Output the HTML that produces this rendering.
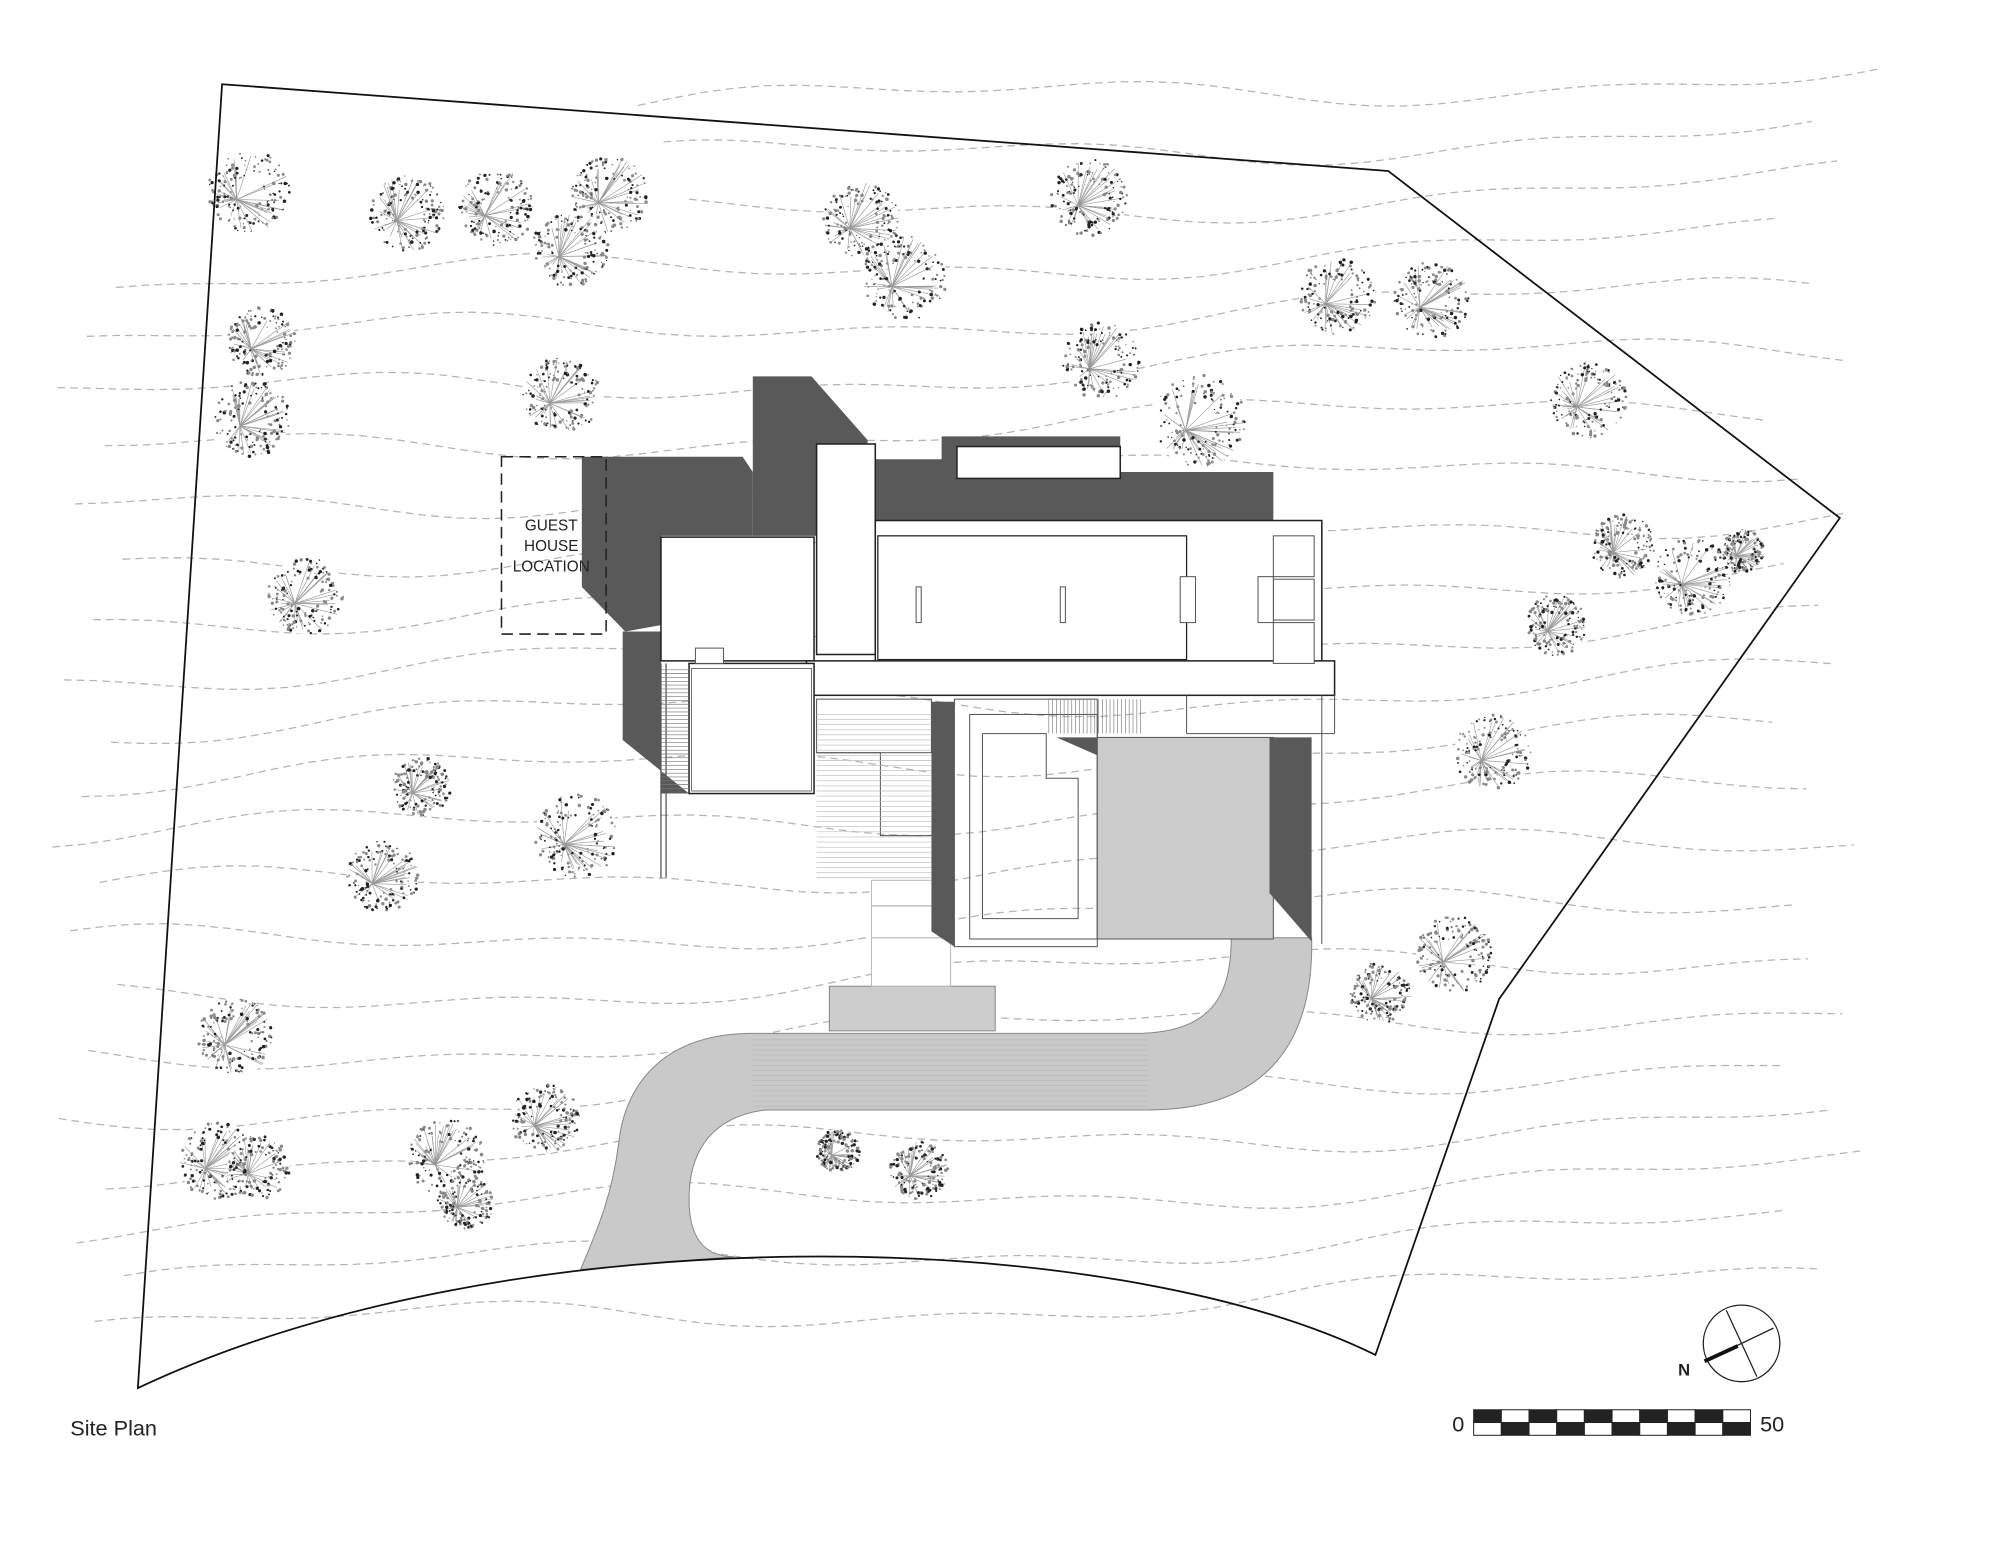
<!DOCTYPE html>
<html><head><meta charset="utf-8">
<style>
html,body{margin:0;padding:0;background:#fff;}
svg{display:block;}
text{font-family:"Liberation Sans",sans-serif;}
</style></head>
<body>
<svg id="s" width="2000" height="1545" viewBox="0 0 1567.5 1211" xmlns="http://www.w3.org/2000/svg">
<rect width="1600" height="1250" fill="#fff"/>
<g id="contours" stroke="#b5b5b5" stroke-width="1" stroke-dasharray="6,4" fill="none"></g>
<g id="trees"></g>

<path d="M965 735 L1028 735 C1030 820 990 870 900 870 L600 870 C560 875 540 900 540 940 C540 970 552 985 575 985 L455 995 C470 960 480 935 485 895 C490 850 520 810 590 810 L890 810 C950 810 965 780 965 735 Z" fill="#c9c9c9" stroke="#888" stroke-width="0.8"/>
<g id="drivelines" stroke="#b8b8b8" stroke-width="0.5"></g>
<rect x="650" y="773" width="130" height="35" fill="#cdcdcd" stroke="#888" stroke-width="0.8"/>
<rect x="683" y="690" width="62" height="83" fill="#fff" stroke="#bbb" stroke-width="0.8"/>
<line x1="683" y1="710" x2="745" y2="710" stroke="#bbb"/><line x1="683" y1="735" x2="745" y2="735" stroke="#bbb"/>

<g fill="#595959">
<polygon points="590,295 636,295 680,345 680,420 590,420"/>
<polygon points="456,358 582,358 590,370 590,420 518,420 518,490 490,495 456,460"/>
<polygon points="686,360 738,360 738,342 878,342 878,370 998,370 998,408 686,408"/>
<polygon points="488,495 518,495 518,622 540,622 488,580"/>
<polygon points="720,408 910,408 932,420 720,420"/>
<polygon points="730,550 748,550 748,742 730,730"/>
<polygon points="828,578 860,578 860,592"/>
<polygon points="532,500 566,500 566,512 532,512"/>
<polygon points="912,443 925,443 925,488 912,488"/>
<polygon points="983,443 996,443 996,488 983,488"/>
</g>

<g fill="#fff" stroke="#222" stroke-width="1.2">
<rect x="750" y="350" width="128" height="25"/>
<rect x="640" y="348" width="46" height="165"/>
<rect x="518" y="421" width="120" height="97"/>
<rect x="686" y="408" width="350" height="112"/>
<rect x="632" y="518" width="414" height="27"/>
<rect x="540" y="520" width="98" height="102"/>
</g>
<rect x="688" y="420" width="242" height="97" fill="none" stroke="#222" stroke-width="1"/>
<rect x="542" y="524" width="94" height="96" fill="none" stroke="#444" stroke-width="0.6"/>
<g fill="#fff" stroke="#555" stroke-width="0.8">
<rect x="998" y="420" width="32" height="32"/><rect x="998" y="454" width="32" height="32"/><rect x="998" y="488" width="32" height="32"/>
<rect x="925" y="452" width="12" height="36"/><rect x="986" y="452" width="12" height="36"/>
<rect x="545" y="508" width="22" height="12"/>
<rect x="718" y="460" width="4" height="28"/><rect x="831" y="460" width="4" height="28"/>
</g>
<line x1="518" y1="520" x2="518" y2="688" stroke="#555"/>
<line x1="522" y1="520" x2="522" y2="688" stroke="#555"/>

<g fill="none" stroke="#555" stroke-width="0.8">
<rect x="748" y="548" width="112" height="194"/>
<rect x="760" y="560" width="100" height="176"/>
<polyline points="770,575 820,575 820,610 845,610 845,720 770,720 770,575"/>
<rect x="640" y="548" width="90" height="42"/>
<polyline points="640,590 690,590 690,655 730,655"/>
<line x1="1036" y1="545" x2="1036" y2="740"/>
<line x1="1046" y1="545" x2="1046" y2="575"/>
<line x1="930" y1="545" x2="930" y2="575"/>
<line x1="930" y1="575" x2="1046" y2="575"/>
</g>
<g id="stairs" stroke="#777" stroke-width="0.5"></g>
<rect x="860" y="578" width="138" height="158" fill="#cbcbcb" stroke="#555" stroke-width="0.8"/>
<polygon points="995,578 1028,578 1028,738 995,700" fill="#595959"/>

<rect x="393" y="358" width="82" height="139" fill="none" stroke="#222" stroke-width="1.2" stroke-dasharray="9,5"/>
<text x="432" y="416" font-size="12" text-anchor="middle" fill="#222">GUEST</text>
<text x="432" y="432" font-size="12" text-anchor="middle" fill="#222">HOUSE</text>
<text x="432" y="448" font-size="12" text-anchor="middle" fill="#222">LOCATION</text>

<path d="M174 66 L1088 134 L1442 406 L1175 783 L1078 1062 C870 960 400 950 108 1088 Z" fill="none" stroke="#111" stroke-width="1.4"/>

<circle cx="1365" cy="1053" r="30" fill="#fff" stroke="#222" stroke-width="1"/>
<line x1="1340" y1="1065" x2="1390" y2="1041" stroke="#222"/>
<line x1="1353" y1="1027" x2="1377" y2="1079" stroke="#222"/>
<line x1="1336" y1="1067" x2="1362" y2="1055" stroke="#111" stroke-width="3"/>
<text x="1320" y="1078" font-size="13" font-weight="bold" fill="#222" text-anchor="middle">N</text>

<g id="scale" stroke="#222" stroke-width="0.8"></g>
<text x="1143" y="1122" font-size="17" fill="#222" text-anchor="middle">0</text>
<text x="1389" y="1122" font-size="17" fill="#222" text-anchor="middle">50</text>
<text x="55" y="1125" font-size="17" fill="#222">Site Plan</text>
</svg>
<script>
var NS="http://www.w3.org/2000/svg";
function el(t,a,p){var e=document.createElementNS(NS,t);for(var k in a)e.setAttribute(k,a[k]);p.appendChild(e);return e;}
var cg=document.getElementById('contours');
for(var i=0;i<23;i++){var y0=100+i*43,pts=[];var x0=40+((i*37)%60),x1=1480-((i*53)%80);
 if(i<3){x0=500+i*20;}
 for(var x=x0;x<=x1;x+=25){var y=y0+12*Math.sin(x/150+i*0.7)+6*Math.sin(x/53+i)-x*0.03;pts.push(x+','+y.toFixed(1));}
 el('polyline',{points:pts.join(' ')},cg);}
var T=[[195,150,32],[320,167,30],[389,163,30],[478,153,30],[447,195,30],[675,173,30],[709,218,33],[854,155,30],[1048,232,30],[1122,235,30],[205,268,27],[197,328,30],[440,310,30],[863,283,30],[940,330,36],[1245,313,30],[1272,428,25],[1327,452,30],[1366,432,17],[1220,490,24],[240,467,30],[1170,590,30],[330,617,23],[452,655,33],[300,687,28],[1140,748,30],[1082,778,24],[185,813,30],[427,877,27],[170,910,30],[202,915,25],[350,907,30],[365,942,22],[657,902,17],[720,917,23]];
var tg=document.getElementById('trees');var seed=7;function rnd(){seed=(seed*9301+49297)%233280;return seed/233280;}
T.forEach(function(t){var g=el('g',{},tg);el('circle',{cx:t[0],cy:t[1],r:t[2],fill:'#fff'},g);
 var cx=t[0]-t[2]*0.3,cy=t[1]+t[2]*0.2;
 for(var k=0;k<30;k++){var a=rnd()*6.283,r=t[2]*(0.6+0.4*rnd());var x=t[0]+r*Math.cos(a),y=t[1]+r*Math.sin(a);
  el('line',{x1:cx,y1:cy,x2:x,y2:y,stroke:'#999','stroke-width':0.5},g);}
 for(var k=0;k<140;k++){var a=rnd()*6.283,r=t[2]*Math.sqrt(0.15+0.85*rnd());
  el('circle',{cx:t[0]+r*Math.cos(a),cy:t[1]+r*Math.sin(a),r:0.5+rnd()*0.9,fill:rnd()<0.4?'#222':'#888'},g);}
});
var sg=document.getElementById('stairs');
for(var x=822;x<895;x+=3)el('line',{x1:x,y1:548,x2:x,y2:575},sg);
for(var y=560;y<690;y+=4)el('line',{x1:640,y1:y,x2:730,y2:y,stroke:'#bbb'},sg);
for(var y=525;y<620;y+=3)el('line',{x1:518,y1:y,x2:540,y2:y},sg);
var dg=document.getElementById('drivelines');
for(var y=815;y<868;y+=4)el('line',{x1:590,y1:y,x2:900,y2:y},dg);
var sc=document.getElementById('scale');
for(var i=0;i<10;i++){var x=1155+i*21.7;
 el('rect',{x:x,y:1105,width:21.7,height:10,fill:(i%2==0)?'#222':'#fff'},sc);
 el('rect',{x:x,y:1115,width:21.7,height:10,fill:(i%2==1)?'#222':'#fff'},sc);}
</script>
</body></html>
